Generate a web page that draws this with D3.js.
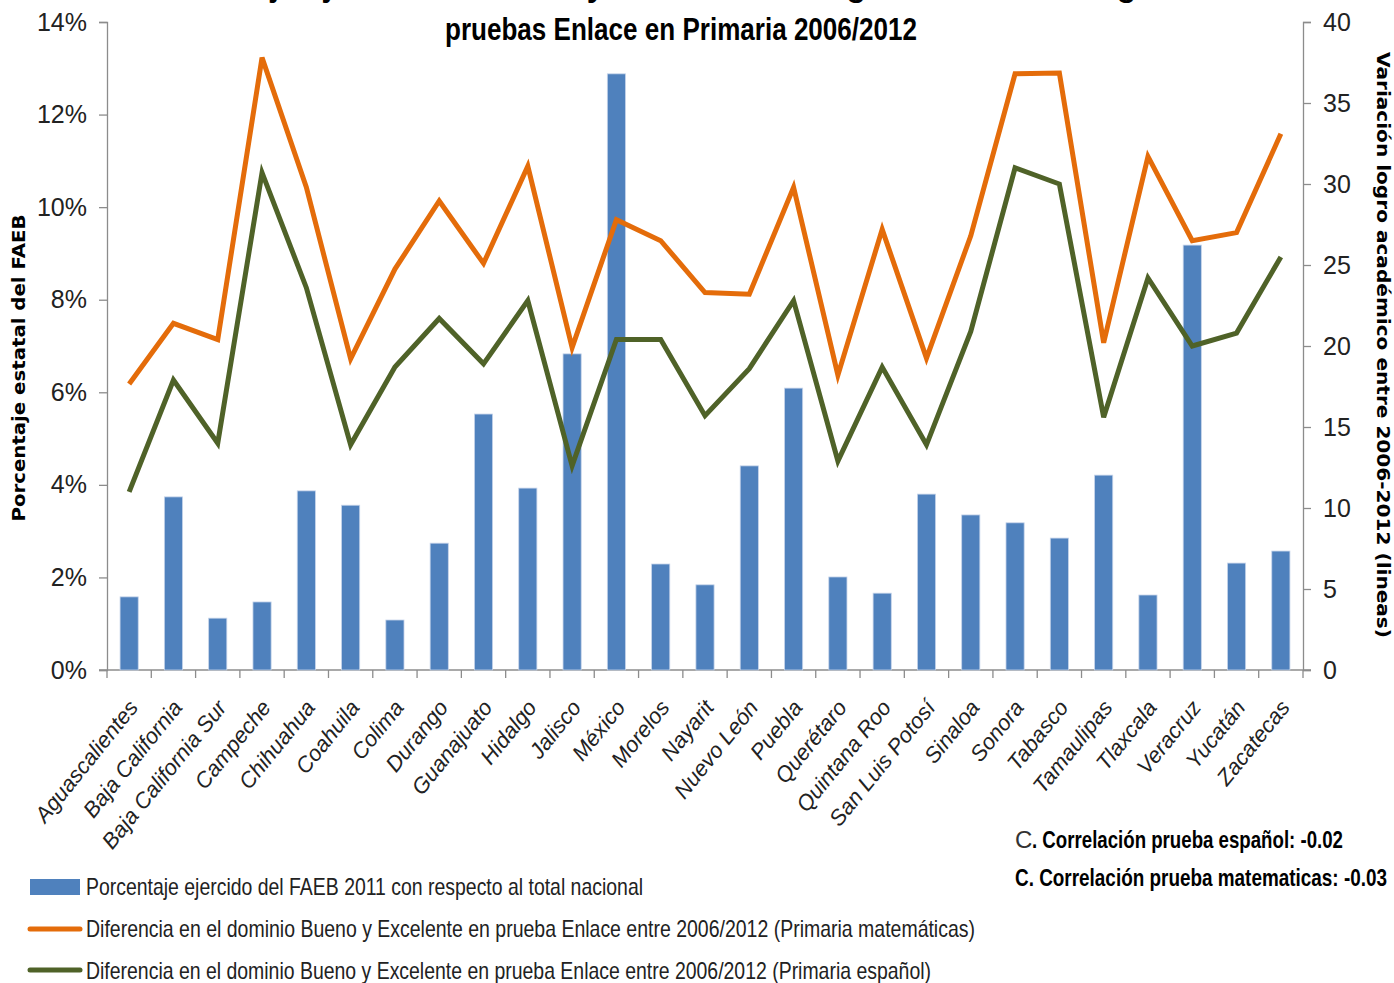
<!DOCTYPE html>
<html><head><meta charset="utf-8">
<script src="https://cdn.jsdelivr.net/npm/d3@7"></script>
<style>
html,body{margin:0;padding:0;background:#fff;}
svg{display:block;}
</style></head>
<body>
<svg id="chart" width="1394" height="983"></svg>
<script>
const categories = ["Aguascalientes","Baja California","Baja California Sur","Campeche","Chihuahua","Coahuila","Colima","Durango","Guanajuato","Hidalgo","Jalisco","México","Morelos","Nayarit","Nuevo León","Puebla","Querétaro","Quintana Roo","San Luis Potosí","Sinaloa","Sonora","Tabasco","Tamaulipas","Tlaxcala","Veracruz","Yucatán","Zacatecas"];
// % ejercido del FAEB 2011 (left axis)
const faeb = [1.58,3.74,1.12,1.47,3.87,3.56,1.08,2.74,5.53,3.93,6.83,12.88,2.29,1.84,4.41,6.09,2.01,1.66,3.80,3.35,3.18,2.85,4.21,1.62,9.18,2.31,2.57];
// Diferencia Bueno y Excelente, matemáticas (right axis)
const matematicas = [17.65,21.4,20.4,37.8,29.8,19.2,24.75,28.95,25.1,31.1,19.9,27.8,26.5,23.3,23.2,29.8,18.2,27.2,19.25,26.8,36.8,36.85,20.2,31.7,26.5,27.0,33.1];
// Diferencia Bueno y Excelente, español (right axis)
const espanol = [11.0,17.9,14.0,30.7,23.6,13.9,18.7,21.7,18.9,22.8,12.6,20.4,20.4,15.7,18.6,22.8,12.9,18.7,13.9,20.9,31.0,30.0,15.6,24.2,20.0,20.8,25.5];
const leftTicks = [0,2,4,6,8,10,12,14];
const rightTicks = [0,5,10,15,20,25,30,35,40];
const legendLabels = [
  "Porcentaje ejercido del FAEB 2011 con respecto al total nacional",
  "Diferencia en el dominio Bueno y Excelente en prueba Enlace entre 2006/2012 (Primaria matemáticas)",
  "Diferencia en el dominio Bueno y Excelente en prueba Enlace entre 2006/2012 (Primaria español)"
];
const titleLines = ["Porcentaje ejercido del FAEB y variación del logro académico según las","pruebas Enlace en Primaria 2006/2012"];
const leftTitle = "Porcentaje estatal del FAEB";
const rightTitle = "Variación logro académico entre 2006-2012  (lineas)";
const corrPrefix = "C";
const corrLines = [". Correlación prueba español: -0.02", "C. Correlación prueba matematicas: -0.03"];

const COL_BAR = "#4F81BD", COL_MAT = "#E46C0A", COL_ESP = "#4F6228";
const NARROW = "'Liberation Sans Narrow','Arial Narrow','Liberation Sans',sans-serif";
const svg = d3.select("#chart");
const mLeft = 107, mRight = 1303, mTop = 22, mBottom = 670;

const x = d3.scaleBand().domain(categories).range([mLeft, mRight]).paddingInner(0.59).paddingOuter(0.295);
const xb = d3.scaleBand().domain(categories).range([mLeft, mRight]);
const yL = d3.scaleLinear().domain([0,14]).range([mBottom, mTop]);
const yR = d3.scaleLinear().domain([0,40]).range([mBottom, mTop]);

// Axes
const axisCol = "#8c8c8c";
const gL = svg.append("g").attr("transform",`translate(${mLeft},0)`)
  .call(d3.axisLeft(yL).tickValues(leftTicks).tickFormat(d=>d+"%").tickSize(8).tickPadding(12));
const gR = svg.append("g").attr("transform",`translate(${mRight},0)`)
  .call(d3.axisRight(yR).tickValues(rightTicks).tickSize(8).tickPadding(12));
[gL,gR].forEach(g=>{
  g.select(".domain").attr("stroke",axisCol).attr("stroke-width",1.3);
  g.selectAll(".tick line").attr("stroke",axisCol).attr("stroke-width",1.3);
  g.selectAll(".tick text").attr("font-family",NARROW).attr("font-size",25).attr("fill","#222");
});
// x axis with ticks at band boundaries
const gX = svg.append("g").attr("transform",`translate(0,${mBottom})`);
gX.append("line").attr("x1",mLeft-8).attr("x2",mRight+8).attr("stroke",axisCol).attr("stroke-width",1.3);
gX.selectAll("line.tk").data(categories).join("line").attr("class","tk")
  .attr("x1",d=>xb(d)).attr("x2",d=>xb(d)).attr("y1",0).attr("y2",8)
  .attr("stroke",axisCol).attr("stroke-width",1.3);
gX.append("line").attr("x1",mRight).attr("x2",mRight).attr("y1",0).attr("y2",8).attr("stroke",axisCol).attr("stroke-width",1.3);
gX.selectAll("text").data(categories).join("text")
  .attr("transform",d=>`translate(${xb(d)+xb.bandwidth()/2+10},${38}) rotate(-51)`)
  .attr("text-anchor","end")
  .attr("font-family",NARROW).attr("font-style","italic").attr("font-size",22).attr("fill","#222")
  .text(d=>d);

// Bars
svg.append("g").selectAll("rect").data(categories).join("rect")
  .attr("x",d=>x(d)).attr("width",x.bandwidth())
  .attr("y",(d,i)=>yL(faeb[i])).attr("height",(d,i)=>mBottom-yL(faeb[i]))
  .attr("fill",COL_BAR).attr("stroke","#c6d4ea").attr("stroke-width",0.8);

// Lines
const cx = d => xb(d)+xb.bandwidth()/2;
const lineGen = vals => d3.line().x((d,i)=>cx(categories[i])).y(d=>yR(d))(vals);
svg.append("path").attr("d",lineGen(matematicas)).attr("fill","none").attr("stroke",COL_MAT).attr("stroke-width",5).attr("stroke-linejoin","miter");
svg.append("path").attr("d",lineGen(espanol)).attr("fill","none").attr("stroke",COL_ESP).attr("stroke-width",5).attr("stroke-linejoin","miter");

// Titles
svg.append("text").attr("x",681).attr("y",-4).attr("text-anchor","middle")
  .attr("font-family",NARROW).attr("font-weight","bold").attr("font-size",32).text(titleLines[0]);
svg.append("text").attr("x",681).attr("y",40).attr("text-anchor","middle")
  .attr("font-family",NARROW).attr("font-weight","bold").attr("font-size",32)
  .attr("textLength",472).attr("lengthAdjust","spacingAndGlyphs").text(titleLines[1]);
svg.append("text").attr("transform","translate(18,368) rotate(-90)").attr("text-anchor","middle")
  .attr("dominant-baseline","central")
  .attr("font-family","'DejaVu Sans',sans-serif").attr("font-weight","bold").attr("font-size",18)
  .attr("textLength",307).attr("lengthAdjust","spacingAndGlyphs").text(leftTitle);
svg.append("text").attr("transform","translate(1383,345) rotate(90)").attr("text-anchor","middle")
  .attr("dominant-baseline","central")
  .attr("font-family","'DejaVu Sans',sans-serif").attr("font-weight","bold").attr("font-size",18)
  .attr("textLength",586).attr("lengthAdjust","spacingAndGlyphs").text(rightTitle);

// Legend
const lg = svg.append("g");
lg.append("rect").attr("x",30).attr("y",879).attr("width",50).attr("height",16).attr("fill",COL_BAR);
lg.append("line").attr("x1",30).attr("x2",80).attr("y1",929).attr("y2",929).attr("stroke",COL_MAT).attr("stroke-width",5).attr("stroke-linecap","round");
lg.append("line").attr("x1",30).attr("x2",80).attr("y1",970).attr("y2",970).attr("stroke",COL_ESP).attr("stroke-width",5).attr("stroke-linecap","round");
const lgY = [895,937,979], lgW = [557,889,845];
legendLabels.forEach((t,i)=>{
  lg.append("text").attr("x",86).attr("y",lgY[i]).attr("font-family",NARROW).attr("font-size",24).attr("fill","#222")
    .attr("textLength",lgW[i]).attr("lengthAdjust","spacingAndGlyphs").text(t);
});

// Correlation notes
svg.append("text").attr("x",1015).attr("y",848).attr("font-family",NARROW).attr("font-size",24).attr("fill","#333").text(corrPrefix);
svg.append("text").attr("x",1032).attr("y",848).attr("font-family",NARROW).attr("font-size",24).attr("font-weight","bold")
  .attr("textLength",311).attr("lengthAdjust","spacingAndGlyphs").text(corrLines[0]);
svg.append("text").attr("x",1015).attr("y",886).attr("font-family",NARROW).attr("font-size",24).attr("font-weight","bold")
  .attr("textLength",372).attr("lengthAdjust","spacingAndGlyphs").text(corrLines[1]);
</script>
</body></html>
